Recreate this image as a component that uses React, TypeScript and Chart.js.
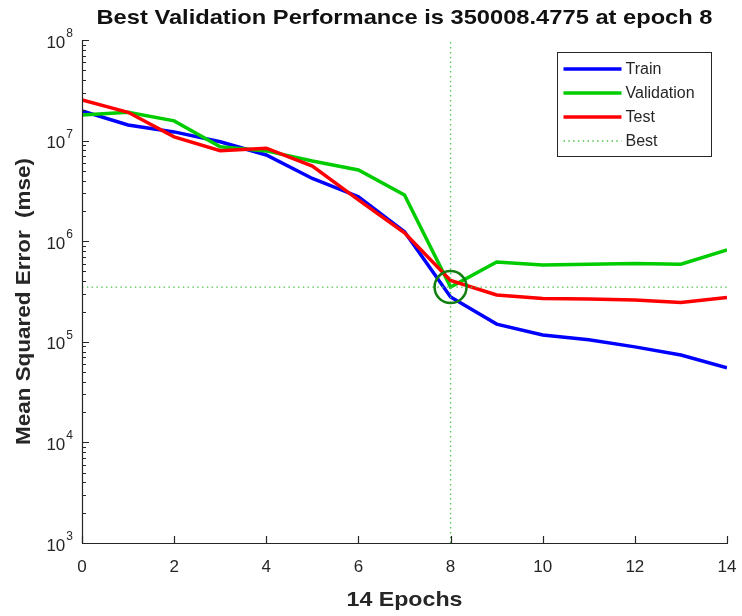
import React, { useEffect, useRef } from "react";
import { Chart, registerables } from "chart.js";

Chart.register(...registerables);

const epochs = [0, 1, 2, 3, 4, 5, 6, 7, 8, 9, 10, 11, 12, 13, 14];
const trainMse = [1.97e7, 1.43e7, 1.22e7, 9.75e6, 7.2e6, 4.2e6, 2.77e6, 1.24e6, 2.79e5, 1.5e5, 1.17e5, 1.05e5, 8.9e4, 7.4e4, 5.5e4];
const validationMse = [1.8e7, 1.91e7, 1.57e7, 8.7e6, 7.9e6, 6.27e6, 5.1e6, 2.88e6, 350008.4775, 6.2e5, 5.8e5, 5.9e5, 6.0e5, 5.9e5, 8.2e5];
const testMse = [2.54e7, 1.91e7, 1.09e7, 7.94e6, 8.4e6, 5.59e6, 2.57e6, 1.21e6, 4.07e5, 2.92e5, 2.69e5, 2.66e5, 2.6e5, 2.46e5, 2.76e5];
const bestEpoch = 8;
const bestPerf = 350008.4775;
const xTicks = [0, 2, 4, 6, 8, 10, 12, 14];
const yTickExponents = [3, 4, 5, 6, 7, 8];
const legendLabels = ["Train", "Validation", "Test", "Best"];

const TEXT = "#262626";
const BLUE = "#0000ff";
const GREEN = "#00cc00";
const DOTGREEN = "#4cc44c";
const RED = "#ff0000";
const DARKGREEN = "#107f10";

const titleText = `Best Validation Performance is ${bestPerf} at epoch ${bestEpoch}`;
const xTitle = `${epochs.length - 1} Epochs`;
const yTitle = "Mean Squared Error  (mse)";

function fitText(ctx: any, text: string, x: number, y: number, width: number) {
  const w = ctx.measureText(text).width;
  const sx = width / w;
  ctx.save();
  ctx.translate(x, y);
  ctx.scale(sx, 1);
  ctx.fillText(text, 0, 0);
  ctx.restore();
}

const matlabPlugin = {
  id: "matlabAxes",
  afterDraw(chart: any) {
    const { ctx, chartArea, scales } = chart;
    const { left, right, top, bottom } = chartArea;
    const xs = scales.x;
    const ys = scales.y;
    ctx.save();
    // axis lines
    ctx.strokeStyle = TEXT;
    ctx.lineWidth = 1.2;
    ctx.beginPath();
    ctx.moveTo(Math.round(left) + 0.5, top);
    ctx.lineTo(Math.round(left) + 0.5, Math.round(bottom) + 0.5);
    ctx.lineTo(right + 1, Math.round(bottom) + 0.5);
    ctx.stroke();
    // x ticks
    ctx.beginPath();
    for (const v of xTicks) {
      const px = Math.round(xs.getPixelForValue(v)) + 0.5;
      ctx.moveTo(px, bottom);
      ctx.lineTo(px, bottom - 7);
    }
    // y ticks (major + minor)
    const minE = yTickExponents[0];
    const maxE = yTickExponents[yTickExponents.length - 1];
    for (let e = minE; e <= maxE; e++) {
      for (let m = 1; m <= 9; m++) {
        if (e === maxE && m > 1) break;
        const py = Math.round(ys.getPixelForValue(m * Math.pow(10, e))) + 0.5;
        const len = m === 1 ? 7 : 4;
        ctx.moveTo(left, py);
        ctx.lineTo(left + len, py);
      }
    }
    ctx.stroke();

    // x tick labels
    ctx.fillStyle = TEXT;
    ctx.font = "17px 'Liberation Sans', Arial, sans-serif";
    ctx.textAlign = "center";
    ctx.textBaseline = "middle";
    for (const v of xTicks) {
      ctx.fillText(String(v), xs.getPixelForValue(v), bottom + 24);
    }
    // y tick labels 10^n
    for (const e of yTickExponents) {
      const py = ys.getPixelForValue(Math.pow(10, e));
      ctx.font = "12px 'Liberation Sans', Arial, sans-serif";
      const ew = ctx.measureText(String(e)).width;
      ctx.textAlign = "right";
      ctx.textBaseline = "alphabetic";
      ctx.fillText(String(e), left - 9, py - 3);
      ctx.font = "17px 'Liberation Sans', Arial, sans-serif";
      ctx.textBaseline = "middle";
      ctx.fillText("10", left - 10 - ew, py + 3);
    }

    // title
    ctx.fillStyle = "#111";
    ctx.font = "bold 21px 'Liberation Sans', Arial, sans-serif";
    ctx.textAlign = "center";
    ctx.textBaseline = "middle";
    fitText(ctx, titleText, (left + right) / 2, 18, 616);
    // x title
    ctx.fillStyle = TEXT;
    ctx.font = "bold 21px 'Liberation Sans', Arial, sans-serif";
    fitText(ctx, xTitle, (left + right) / 2, 600, 116);
    // y title
    ctx.save();
    ctx.translate(24, (top + bottom) / 2 + 10);
    ctx.rotate(-Math.PI / 2);
    fitText(ctx, yTitle, 0, 0, 287);
    ctx.restore();

    // legend
    const lx = 557.5, ly = 52.5, lw = 154, lh = 104;
    ctx.fillStyle = "#fff";
    ctx.fillRect(lx, ly, lw, lh);
    ctx.strokeStyle = TEXT;
    ctx.lineWidth = 1;
    ctx.strokeRect(lx, ly, lw, lh);
    const colors = [BLUE, GREEN, RED, DOTGREEN];
    legendLabels.forEach((lab, i) => {
      const yy = ly + 16.5 + i * 24;
      ctx.beginPath();
      ctx.strokeStyle = colors[i];
      if (i === 3) {
        ctx.lineWidth = 1.3;
        ctx.setLineDash([1.5, 3.3]);
      } else {
        ctx.lineWidth = 3.5;
        ctx.setLineDash([]);
      }
      ctx.moveTo(lx + 6, yy);
      ctx.lineTo(lx + 64, yy);
      ctx.stroke();
      ctx.setLineDash([]);
      ctx.fillStyle = TEXT;
      ctx.font = "16px 'Liberation Sans', Arial, sans-serif";
      ctx.textAlign = "left";
      ctx.textBaseline = "middle";
      ctx.fillText(lab, lx + 68, yy + 1);
    });
    ctx.restore();
  },
};

export default function App() {
  const ref = useRef<HTMLCanvasElement | null>(null);
  useEffect(() => {
    if (!ref.current) return;
    const chart = new Chart(ref.current, {
      type: "line",
      data: {
        datasets: [
          {
            label: "BestCircle",
            data: [{ x: bestEpoch, y: bestPerf }],
            showLine: false,
            pointRadius: 16,
            pointBorderWidth: 2.5,
            pointBorderColor: DARKGREEN,
            pointBackgroundColor: "rgba(0,0,0,0)",
          },
          {
            label: "BestH",
            data: [{ x: epochs[0], y: bestPerf }, { x: epochs[epochs.length - 1], y: bestPerf }],
            borderColor: DOTGREEN,
            borderWidth: 1.3,
            borderDash: [1.5, 3.3],
            pointRadius: 0,
          },
          {
            label: "BestV",
            data: [{ x: bestEpoch, y: 1e3 }, { x: bestEpoch, y: 1e8 }],
            borderColor: DOTGREEN,
            borderWidth: 1.3,
            borderDash: [1.5, 3.3],
            pointRadius: 0,
          },
          {
            label: "Test",
            data: epochs.map((e, i) => ({ x: e, y: testMse[i] })),
            borderColor: RED,
            borderWidth: 3.5,
            pointRadius: 0,
          },
          {
            label: "Validation",
            data: epochs.map((e, i) => ({ x: e, y: validationMse[i] })),
            borderColor: GREEN,
            borderWidth: 3.5,
            pointRadius: 0,
          },
          {
            label: "Train",
            data: epochs.map((e, i) => ({ x: e, y: trainMse[i] })),
            borderColor: BLUE,
            borderWidth: 3.5,
            pointRadius: 0,
          },
        ],
      },
      options: {
        responsive: false,
        animation: false,
        events: [],
        layout: { autoPadding: false, padding: { left: 0, right: 15, top: 40, bottom: 0 } },
        plugins: {
          legend: { display: false },
          title: { display: false },
          tooltip: { enabled: false },
        },
        scales: {
          x: {
            type: "linear",
            min: 0,
            max: 14,
            ticks: { display: false },
            grid: { display: false },
            border: { display: false },
            afterFit(s: any) {
              s.height = 73;
            },
          },
          y: {
            type: "logarithmic",
            min: 1e3,
            max: 1e8,
            ticks: { display: false },
            grid: { display: false },
            border: { display: false },
            afterFit(s: any) {
              s.width = 82;
            },
          },
        },
      },
      plugins: [matlabPlugin],
    });
    return () => chart.destroy();
  }, []);
  return (
    <div style={{ position: "fixed", left: 0, top: 0, width: 742, height: 616, background: "#fff" }}>
      <canvas ref={ref} width={742} height={616} style={{ display: "block" }} />
    </div>
  );
}
